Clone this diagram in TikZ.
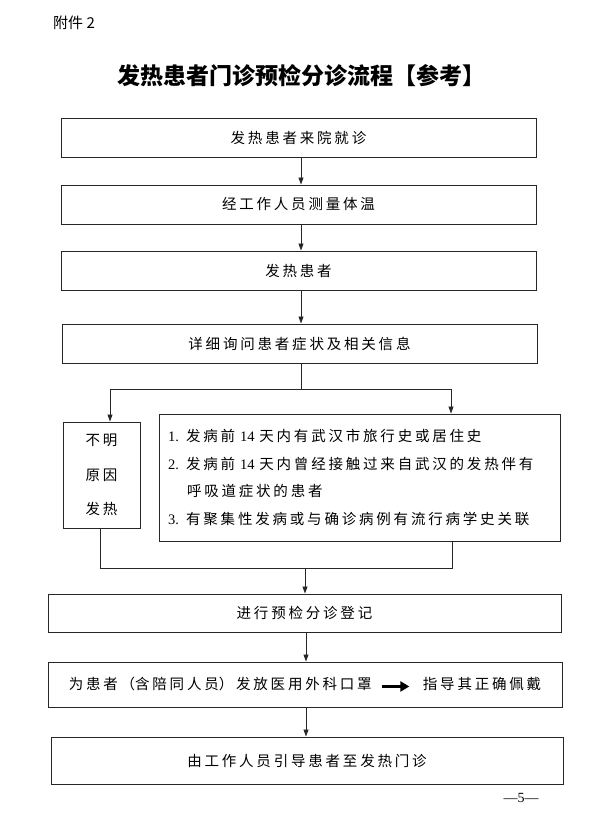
\documentclass[tikz,border=0pt]{standalone}
\usepackage{fontspec}
\setmainfont{Liberation Serif}
\newfontfamily\cjk{Noto Sans CJK SC}
\newfontfamily\lat{Liberation Serif}
\usetikzlibrary{arrows.meta}
\XeTeXlinebreaklocale "zh"
\tikzset{
  box/.style={draw=black!85, line width=1pt, inner sep=0pt, align=center, text width=#1,
    font={\cjk\fontsize{14.5}{17}\selectfont\XeTeXlinebreakskip=2.8pt\relax}},
  box/.default=460pt,
  arr/.style={draw=black!85, line width=0.8pt, -{Triangle[length=7pt,width=5pt]}},
  ln/.style={draw=black!85, line width=0.8pt},
}
\begin{document}
\begin{tikzpicture}[x=1pt,y=-1pt]
\useasboundingbox (0,0) rectangle (590,817);
\fill[white] (0,0) rectangle (590,817);

\node[anchor=west, inner sep=0pt, font={\cjk\fontsize{15}{15}\selectfont\XeTeXlinebreakskip=0pt\relax}] (att) at (53,23) {附件 2};
\node[inner sep=0pt, font={\cjk\bfseries\fontsize{23}{23}\selectfont\XeTeXlinebreakskip=0pt\relax}] (title) at (301,76) {发热患者门诊预检分诊流程【参考】};

\node[box, minimum width=475pt, minimum height=39pt] (B1) at (298.5,137.5) {发热患者来院就诊};
\node[box, minimum width=475pt, minimum height=39pt] (B2) at (298.5,204.5) {经工作人员测量体温};
\node[box, minimum width=475pt, minimum height=39pt] (B3) at (298.5,270.5) {发热患者};
\node[box, minimum width=475pt, minimum height=39pt] (B4) at (299.5,343.5) {详细询问患者症状及相关信息};

\node[box=60pt, minimum width=77pt, minimum height=106pt,
  font={\cjk\fontsize{14.5}{34.5}\selectfont\XeTeXlinebreakskip=2.8pt\relax}] (L) at (101.5,475) {不明\\原因\\发热};
\node[box=383pt, minimum width=401pt, minimum height=127pt, inner xsep=9pt, align=left,
  font={\cjk\fontsize{14.5}{27.7}\selectfont\XeTeXlinebreakskip=2.8pt\relax}] (R) at (359.5,477.5)
  {{\lat 1. }发病前{\lat\ 14 }天内有武汉市旅行史或居住史\\
   {\lat 2. }发病前{\lat\ 14 }天内曾经接触过来自武汉的发热伴有\\
   \hspace*{19pt}呼吸道症状的患者\\
   {\lat 3. }有聚集性发病或与确诊病例有流行病学史关联};

\node[box=500pt, minimum width=513pt, minimum height=38pt] (B5) at (304.5,613) {进行预检分诊登记};
\node[box=505pt, minimum width=514pt, minimum height=45pt] (B6) at (305,684.5)
  {为患者（含陪同人员）发放医用外科口罩\hspace{9pt}\tikz[baseline=-3.5pt]\draw[line width=3.2pt,-{Triangle[length=9pt,width=10pt]}] (0pt,0pt) -- (27pt,0pt);\hspace{12pt}指导其正确佩戴};
\node[box=500pt, minimum width=512pt, minimum height=47pt] (B7) at (307,760.5) {由工作人员引导患者至发热门诊};

\node[inner sep=0pt, font={\lat\fontsize{14}{14}\selectfont}] (pg) at (521,798) {—5—};

% top chain
\coordinate (ax) at (301,0);
\draw[arr] (B1.south -| ax) -- (B2.north -| ax);
\draw[arr] (B2.south -| ax) -- (B3.north -| ax);
\draw[arr] (B3.south -| ax) -- (B4.north -| ax);

% split
\coordinate (sp) at (301,389);
\coordinate (jl) at (110,389);
\coordinate (jr) at (451,389);
\draw[ln] (B4.south -| sp) -- (sp);
\draw[ln] (jl) -- (jr);
\draw[arr] (jl) -- (jl |- L.north);
\draw[arr] (jr) -- (jr |- R.north);

% merge
\coordinate (ml) at (100,568);
\coordinate (mr) at (452,568);
\coordinate (mm) at (305,568);
\draw[ln] (L.south -| ml) -- (ml) -- (mr) -- (R.south -| mr);
\draw[arr] (mm) -- (mm |- B5.north);

% bottom chain
\coordinate (bx) at (306,0);
\draw[arr] (B5.south -| bx) -- (B6.north -| bx);
\draw[arr] (B6.south -| bx) -- (B7.north -| bx);
\end{tikzpicture}
\end{document}
